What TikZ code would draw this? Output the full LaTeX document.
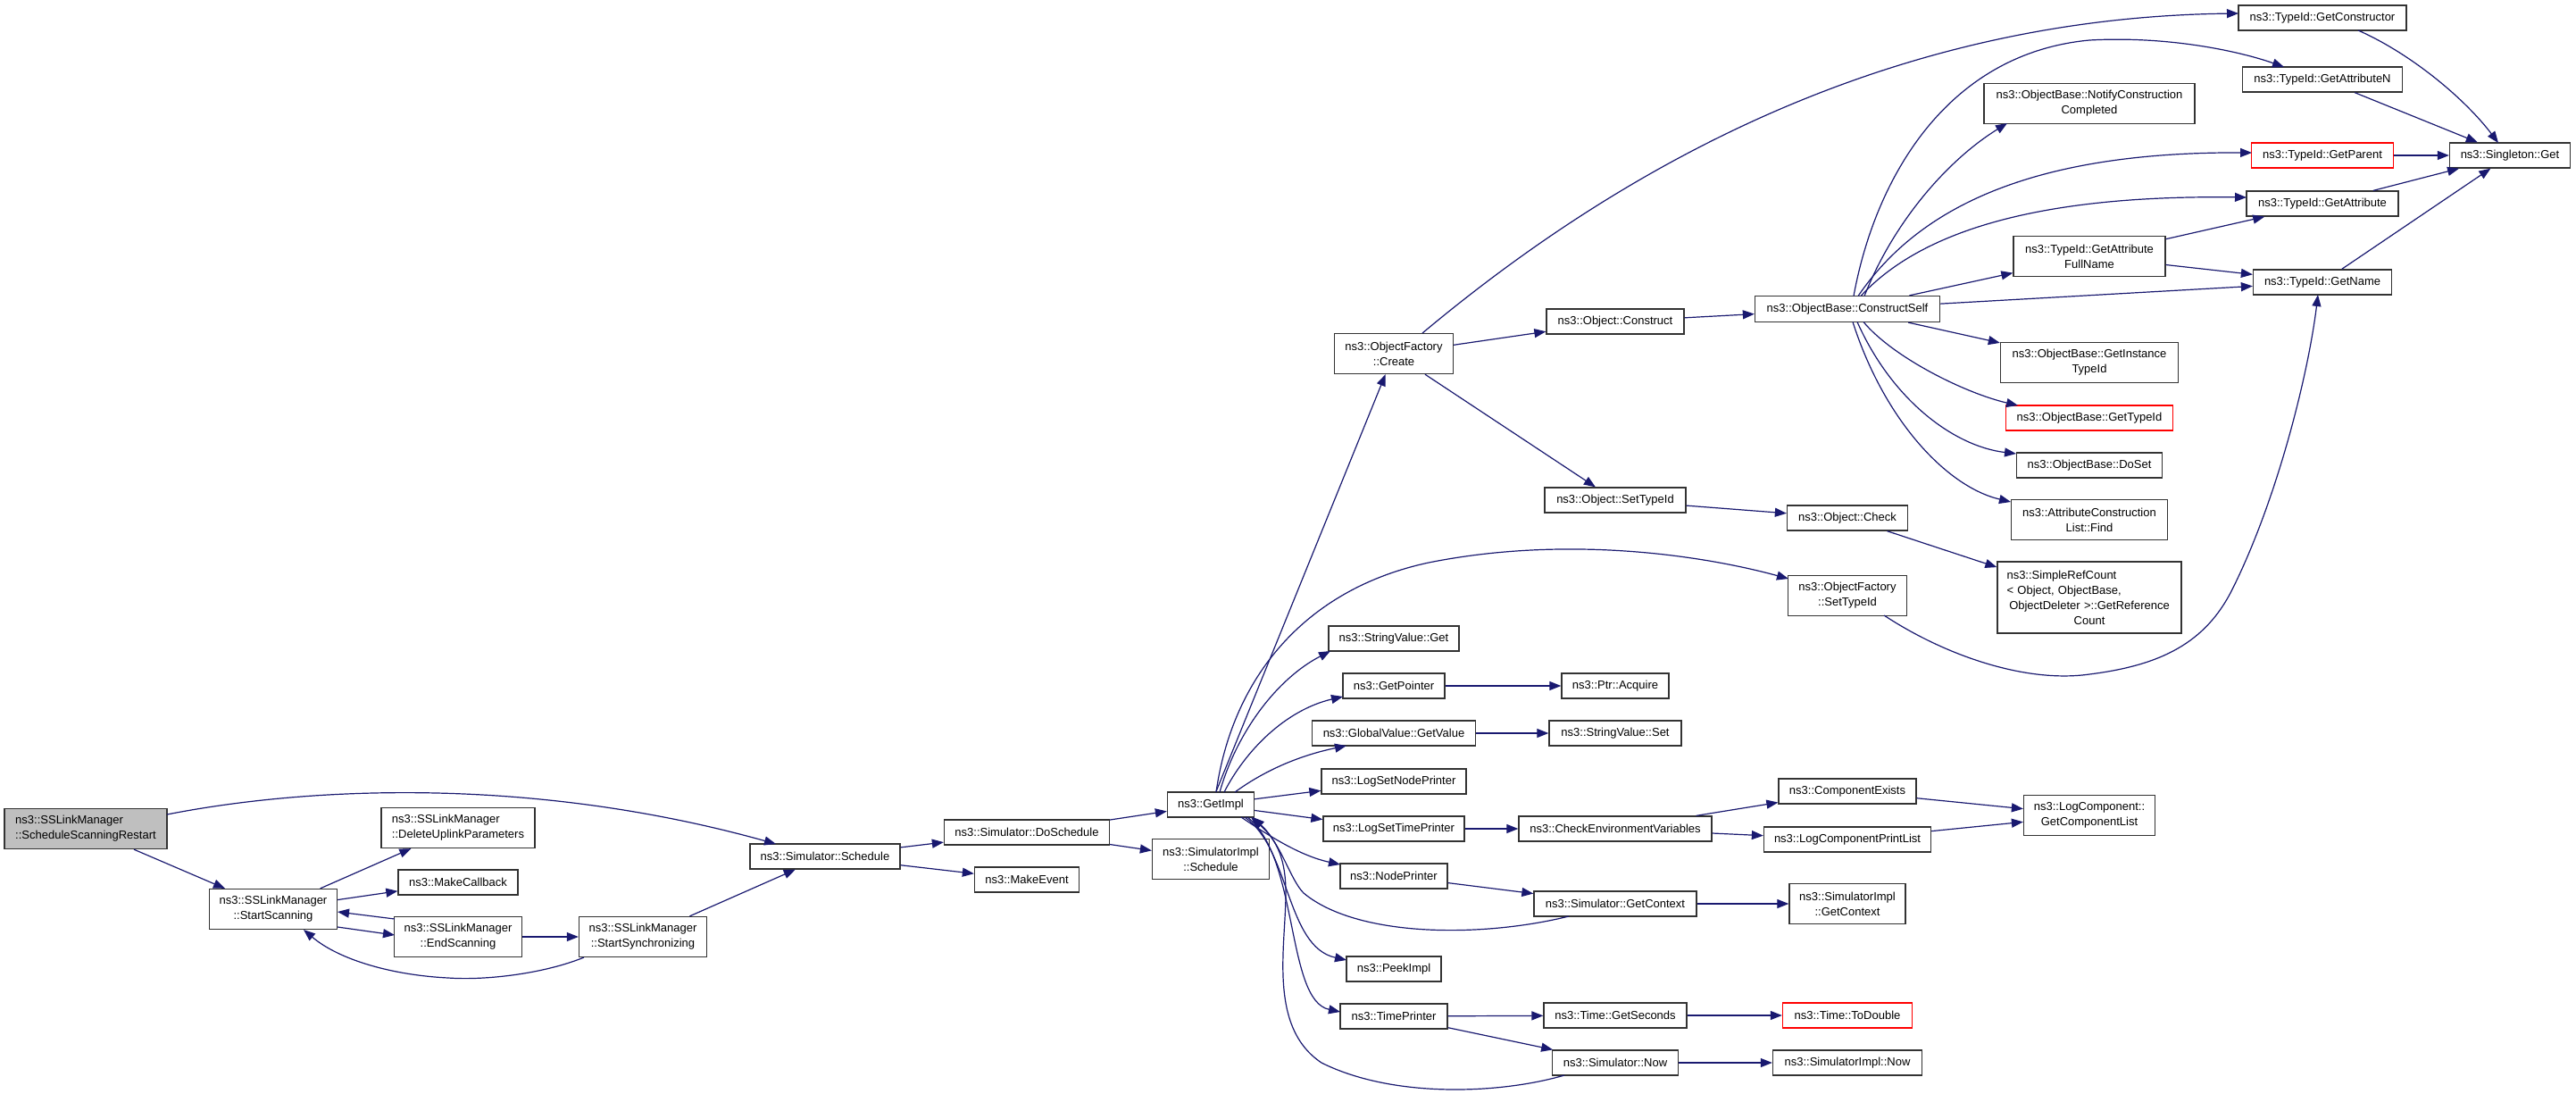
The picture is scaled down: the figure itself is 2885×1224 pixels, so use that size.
\documentclass[tikz,border=0pt]{standalone}
\usepackage{fontspec}
\setmainfont{Liberation Sans}
\usetikzlibrary{arrows.meta}
\definecolor{edgeblue}{RGB}{25,25,112}
\definecolor{srgray}{RGB}{191,191,191}
\definecolor{boxred}{RGB}{255,0,0}
\begin{document}
\begin{tikzpicture}[x=1pt,y=-1pt,
  fn/.style={draw=black!80, line width=1.3pt, fill=white, font=\fontsize{13}{17}\selectfont, align=center, inner sep=0pt, minimum height=28pt},
  fn2/.style={fn, minimum height=45pt},
  redbox/.style={draw=boxred},
  edge/.style={draw=edgeblue, line width=1.2pt, -{Triangle[length=13pt,width=10pt]}}]
\fill[white] (0,0) rectangle (2885,1224);
\useasboundingbox (0,0) rectangle (2885,1224);
% column 1-2
\node[fn2, fill=srgray, align=left, minimum width=182pt] (sr) at (96,928) {ns3::SSLinkManager\\::ScheduleScanningRestart};
\node[fn2, minimum width=143pt] (ss) at (306,1018) {ns3::SSLinkManager\\::StartScanning};
\node[fn2, align=left, minimum width=172pt] (del) at (513,927) {ns3::SSLinkManager\\::DeleteUplinkParameters};
\node[fn, minimum width=134pt] (mc) at (513,988) {ns3::MakeCallback};
\node[fn2, minimum width=143pt] (es) at (513,1049) {ns3::SSLinkManager\\::EndScanning};
\node[fn2, minimum width=143pt] (sync) at (720,1049) {ns3::SSLinkManager\\::StartSynchronizing};
\node[fn, minimum width=168pt] (sch) at (924,959) {ns3::Simulator::Schedule};
\node[fn, minimum width=185pt] (dos) at (1150,932) {ns3::Simulator::DoSchedule};
\node[fn, minimum width=117pt] (me) at (1150,985) {ns3::MakeEvent};
\node[fn, minimum width=97pt] (gi) at (1356,901) {ns3::GetImpl};
\node[fn2, minimum width=131pt] (sis) at (1356,962) {ns3::SimulatorImpl\\::Schedule};
% column at 1561
\node[fn2, minimum width=133pt] (ofc) at (1561,396) {ns3::ObjectFactory\\::Create};
\node[fn, minimum width=146pt] (svg) at (1561,715) {ns3::StringValue::Get};
\node[fn, minimum width=114pt] (gp) at (1561,768) {ns3::GetPointer};
\node[fn, minimum width=183pt] (gv) at (1561,821) {ns3::GlobalValue::GetValue};
\node[fn, minimum width=162pt] (lsnp) at (1561,875) {ns3::LogSetNodePrinter};
\node[fn, minimum width=158pt] (lstp) at (1561,928) {ns3::LogSetTimePrinter};
\node[fn, minimum width=120pt] (np) at (1561,981) {ns3::NodePrinter};
\node[fn, minimum width=106pt] (pk) at (1561,1085) {ns3::PeekImpl};
\node[fn, minimum width=120pt] (tp) at (1561,1138) {ns3::TimePrinter};
% column at 1809
\node[fn, minimum width=154pt] (oc) at (1809,360) {ns3::Object::Construct};
\node[fn, minimum width=158pt] (ost) at (1809,560) {ns3::Object::SetTypeId};
\node[fn, minimum width=120pt] (pa) at (1809,768) {ns3::Ptr::Acquire};
\node[fn, minimum width=148pt] (svs) at (1809,821) {ns3::StringValue::Set};
\node[fn, minimum width=216pt] (cev) at (1809,928) {ns3::CheckEnvironmentVariables};
\node[fn, minimum width=182pt] (sgc) at (1809,1012) {ns3::Simulator::GetContext};
\node[fn, minimum width=160pt] (tgs) at (1809,1137) {ns3::Time::GetSeconds};
\node[fn, minimum width=141pt] (sn) at (1809,1190) {ns3::Simulator::Now};
% column at 2069
\node[fn, minimum width=207pt, minimum height=29pt] (cs) at (2069,346) {ns3::ObjectBase::ConstructSelf};
\node[fn, minimum width=135pt] (ochk) at (2069,580) {ns3::Object::Check};
\node[fn2, minimum width=133pt] (ofst) at (2069,667) {ns3::ObjectFactory\\::SetTypeId};
\node[fn, minimum width=154pt] (ce) at (2069,886) {ns3::ComponentExists};
\node[fn, minimum width=187pt] (lcpl) at (2069,940) {ns3::LogComponentPrintList};
\node[fn2, minimum width=130pt] (sigc) at (2069,1012) {ns3::SimulatorImpl\\::GetContext};
\node[fn, redbox, minimum width=145pt] (td) at (2069,1137) {ns3::Time::ToDouble};
\node[fn, minimum width=167pt] (sin) at (2069,1190) {ns3::SimulatorImpl::Now};
% column at 2340
\node[fn2, minimum width=236pt] (ncc) at (2340,116) {ns3::ObjectBase::NotifyConstruction\\Completed};
\node[fn2, minimum width=170pt] (gafn) at (2340,287) {ns3::TypeId::GetAttribute\\FullName};
\node[fn2, minimum width=199pt] (gitid) at (2340,406) {ns3::ObjectBase::GetInstance\\TypeId};
\node[fn, redbox, minimum width=187pt] (gtid) at (2340,468) {ns3::ObjectBase::GetTypeId};
\node[fn, minimum width=163pt] (dset) at (2340,521) {ns3::ObjectBase::DoSet};
\node[fn2, minimum width=175pt] (find) at (2340,582) {ns3::AttributeConstruction\\List::Find};
\node[fn, minimum width=206pt, minimum height=80pt, text width=185pt] (src) at (2340,669) {\makebox[\linewidth][l]{ns3::SimpleRefCount}\\\makebox[\linewidth][l]{< Object, ObjectBase,}\\ObjectDeleter >::GetReference\\Count};
\node[fn2, minimum width=147pt] (gcl) at (2340,913) {ns3::LogComponent::\\GetComponentList};
% column at 2601
\node[fn, minimum width=188pt] (gc) at (2601,20) {ns3::TypeId::GetConstructor};
\node[fn, minimum width=179pt] (gan) at (2601,89) {ns3::TypeId::GetAttributeN};
\node[fn, redbox, minimum width=159pt] (gpar) at (2601,174) {ns3::TypeId::GetParent};
\node[fn, minimum width=170pt] (ga) at (2601,228) {ns3::TypeId::GetAttribute};
\node[fn, minimum width=155pt] (gn) at (2601,316) {ns3::TypeId::GetName};
\node[fn, minimum width=135pt] (sg) at (2811,174) {ns3::Singleton::Get};
% ---------------- edges
\draw[edge] (sr) -- (ss);
\draw[edge] ([shift={(91,-16)}]sr.center) .. controls (350,880) and (600,870) .. ([shift={(-55,-14)}]sch.center);
\draw[edge] (ss) -- (del);
\draw[edge] (ss) -- (mc);
\draw[edge] ([shift={(72,20)}]ss.center) -- ([shift={(-71,-2)}]es.center);
\draw[edge] ([shift={(-71,-20)}]es.center) -- ([shift={(72,3)}]ss.center);
\draw[edge] (es) -- (sync);
\draw[edge] ([shift={(-66,23)}]sync.center) .. controls (610,1090) and (545,1098) .. (502,1095) .. controls (440,1092) and (380,1075) .. ([shift={(34,23)}]ss.center);
\draw[edge] (sync) -- (sch);
\draw[edge] (sch) -- (dos);
\draw[edge] (sch) -- (me);
\draw[edge] (dos) -- (gi);
\draw[edge] (dos) -- (sis);
% GetImpl
\draw[edge] (gi) -- (ofc);
\draw[edge] ([shift={(6,-14)}]gi.center) .. controls (1380,760) and (1460,660) .. (1600,630) .. controls (1750,600) and (1900,620) .. ([shift={(-66,-19)}]ofst.center);
\draw[edge] ([shift={(10,-14)}]gi.center) .. controls (1385,820) and (1430,760) .. ([shift={(-71,14)}]svg.center);
\draw[edge] ([shift={(15,-14)}]gi.center) .. controls (1395,840) and (1440,795) .. ([shift={(-57,12)}]gp.center);
\draw[edge] ([shift={(27,-14)}]gi.center) .. controls (1420,860) and (1460,845) .. ([shift={(-53,14)}]gv.center);
\draw[edge] (gi) -- (lsnp);
\draw[edge] (gi) -- (lstp);
\draw[edge] ([shift={(34,14)}]gi.center) .. controls (1420,935) and (1455,958) .. ([shift={(-60,-13)}]np.center);
\draw[edge] ([shift={(38,14)}]gi.center) .. controls (1445,950) and (1440,1060) .. ([shift={(-53,-10)}]pk.center);
\draw[edge] ([shift={(41,14)}]gi.center) .. controls (1455,960) and (1440,1120) .. ([shift={(-60,-5)}]tp.center);
\draw[edge] ([shift={(-52,14)}]sgc.center) .. controls (1660,1050) and (1520,1050) .. (1460,1000) .. controls (1445,985) and (1435,945) .. ([shift={(47,14)}]gi.center);
\draw[edge] ([shift={(-57,14)}]sn.center) .. controls (1680,1225) and (1560,1230) .. (1480,1190) .. controls (1420,1150) and (1440,1060) .. (1440,1000) .. controls (1440,965) and (1432,942) .. ([shift={(45,14)}]gi.center);
% ObjectFactory::Create
\draw[edge] (ofc) -- (oc);
\draw[edge] (ofc) -- (ost);
\draw[edge] ([shift={(32,-23)}]ofc.center) .. controls (1800,200) and (2100,20) .. ([shift={(-94,-5)}]gc.center);
\draw[edge] (oc) -- (cs);
% ConstructSelf
\draw[edge] ([shift={(19,-14.5)}]cs.center) .. controls (2120,250) and (2180,180) .. ([shift={(-92,22)}]ncc.center);
\draw[edge] ([shift={(7,-14.5)}]cs.center) .. controls (2100,200) and (2180,60) .. (2340,45) .. controls (2430,40) and (2510,58) .. ([shift={(-43,-14)}]gan.center);
\draw[edge] ([shift={(12,-14.5)}]cs.center) .. controls (2150,230) and (2280,170) .. ([shift={(-79,-3)}]gpar.center);
\draw[edge] ([shift={(15,-14.5)}]cs.center) .. controls (2150,260) and (2280,218) .. ([shift={(-85,-7)}]ga.center);
\draw[edge] (cs) -- (gafn);
\draw[edge] (cs) -- (gn);
\draw[edge] (cs) -- (gitid);
\draw[edge] ([shift={(18,14.5)}]cs.center) .. controls (2120,400) and (2200,440) .. ([shift={(-80,-14)}]gtid.center);
\draw[edge] ([shift={(11,14.5)}]cs.center) .. controls (2120,450) and (2190,500) .. ([shift={(-82,-13)}]dset.center);
\draw[edge] ([shift={(6,14.5)}]cs.center) .. controls (2110,470) and (2180,545) .. ([shift={(-88,-20)}]find.center);
\draw[edge] (gafn) -- (ga);
\draw[edge] (gafn) -- (gn);
% Singleton
\draw[edge] ([shift={(40,14)}]gc.center) .. controls (2700,60) and (2760,110) .. ([shift={(-13,-14)}]sg.center);
\draw[edge] (gan) -- (sg);
\draw[edge] (gpar) -- (sg);
\draw[edge] (ga) -- (sg);
\draw[edge] (gn) -- (sg);
% Object::SetTypeId etc
\draw[edge] (ost) -- (ochk);
\draw[edge] (ochk) -- (src);
\draw[edge] ([shift={(41,22)}]ofst.center) .. controls (2180,735) and (2270,765) .. (2340,755) .. controls (2420,745) and (2470,720) .. (2500,660) .. controls (2550,560) and (2585,420) .. ([shift={(-5,14)}]gn.center);
% lower part
\draw[edge] (gp) -- (pa);
\draw[edge] (gv) -- (svs);
\draw[edge] (lstp) -- (cev);
\draw[edge] (cev) -- (ce);
\draw[edge] (cev) -- (lcpl);
\draw[edge] (ce) -- (gcl);
\draw[edge] (lcpl) -- (gcl);
\draw[edge] (np) -- (sgc);
\draw[edge] (sgc) -- (sigc);
\draw[edge] (tp) -- (tgs);
\draw[edge] (tp) -- (sn);
\draw[edge] (tgs) -- (td);
\draw[edge] (sn) -- (sin);
\end{tikzpicture}
\end{document}
